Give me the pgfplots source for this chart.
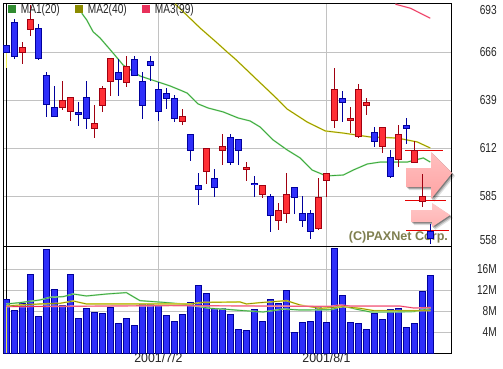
\documentclass[border=0pt]{standalone}
\usepackage{fontspec}
\usepackage{pgfplots}
\usepackage{pgfplotstable}
\pgfplotsset{compat=1.18}
\setmainfont{Liberation Sans}
\newfontfamily\narrowf[FakeStretch=0.78]{Liberation Sans}
\newfontfamily\xlabf[FakeStretch=0.95]{Liberation Sans}
\definecolor{bluefill}{HTML}{2E2EFA}
\definecolor{blueedge}{HTML}{00009C}
\definecolor{redfill}{HTML}{FF3036}
\definecolor{rededge}{HTML}{A00010}
\definecolor{gridc}{HTML}{C2C2C2}
\definecolor{ma1}{HTML}{38A438}
\definecolor{ma1l}{HTML}{A0E0A0}
\definecolor{ma2}{HTML}{8B8B00}
\definecolor{ma2l}{HTML}{E8E850}
\definecolor{ma3}{HTML}{E8305A}
\definecolor{ma3l}{HTML}{FFB0C0}
\definecolor{paxc}{HTML}{7F7F50}

\pgfplotstableread{
i hi top bot lo
0 669.9 669.9 666.0 666.0
1 684.4 682.7 663.6 662.2
4 681.8 679.3 662.5 661.5
5 654.8 652.9 636.6 629.6
6 646.9 634.9 629.8 629.6
9 637.9 632.1 631.0 624.5
10 649.7 640.5 628.7 622.9
14 661.9 654.6 650.6 641.4
16 663.6 661.9 652.9 652.9
17 654.6 649.5 636.0 628.5
18 663.6 660.8 658.5 649.5
19 649.0 645.0 632.6 627.4
20 645.6 642.8 640.0 633.7
21 641.8 640.0 628.7 626.8
23 619.7 619.7 610.7 604.9
24 597.8 591.0 588.8 579.8
26 600.0 595.0 589.9 584.6
28 619.7 618.0 604.0 602.6
29 616.9 616.9 610.7 602.6
31 596.3 592.3 591.7 584.6
33 586.0 584.8 574.1 564.9
36 589.9 589.9 584.3 575.0
37 584.8 575.3 571.3 567.7
38 577.0 575.3 565.1 561.0
42 643.9 640.0 637.7 626.8
46 623.6 620.8 615.8 612.7
48 610.9 606.8 596.1 595.0
50 628.7 624.8 623.1 614.1
53 569.1 565.1 561.2 557.8
}\downT
\pgfplotstableread{
i hi top bot lo
2 671.6 668.6 665.8 659.4
3 692.4 684.4 678.8 675.2
7 649.7 638.8 634.9 633.5
8 640.5 640.5 632.6 627.4
11 636.2 625.9 623.0 617.8
12 646.9 645.6 636.0 632.4
13 662.5 662.5 649.5 641.4
15 663.6 658.0 649.0 646.5
22 633.8 629.8 627.0 624.8
25 611.8 611.8 598.9 591.6
27 619.7 613.0 610.7 602.6
30 604.0 601.1 600.0 593.6
32 591.0 591.0 586.0 584.0
34 580.9 577.0 571.3 566.0
35 597.8 586.0 575.3 570.0
39 595.0 584.3 566.8 566.0
40 597.8 597.8 593.8 584.6
41 656.8 645.0 627.6 623.1
43 634.9 628.7 627.6 620.3
44 647.8 645.0 618.4 617.8
45 640.0 637.7 636.0 630.6
47 623.6 623.6 613.0 609.0
49 624.9 619.7 605.6 601.5
51 615.8 610.7 604.0 604.0
52 597.2 584.8 582.0 579.0
}\upT
\pgfplotstableread{
i v
9.43 687.8
10.05 684.0
10.84 677.4
11.71 673.9
13.34 665.4
14.59 658.7
16.71 652.5
20.46 646.9
21.71 644.6
22.59 642.9
23.96 636.8
25.21 634.5
27.09 632.3
28.96 628.9
30.46 627.2
31.71 623.8
33.34 616.5
35.09 610.9
36.71 606.4
38.21 599.6
39.96 596.3
42.09 596.8
43.34 599.6
45.09 603.0
46.71 604.1
50.09 604.1
52.09 606.4
52.96 604.1
}\maA
\pgfplotstableread{
i v
21.09 693.0
24.21 679.5
26.34 671.1
27.59 666.0
28.59 662.1
31.34 650.3
33.84 639.6
35.09 633.9
37.59 626.6
39.84 621.6
42.09 620.4
45.46 618.2
48.84 617.6
51.34 615.4
52.96 612.0
}\maB
\pgfplotstableread{
i v
48.6 692.9
50.5 690.6
52.96 685.0
}\maC
\pgfplotstableread{
i v
0 10.29
1 8.06
2 9.4
3 14.92
4 7.05
5 19.68
6 12.19
7 9.2
8 14.92
9 6.67
10 8.57
11 7.81
12 7.62
13 8.76
14 5.71
15 6.67
16 5.33
17 9.52
18 9.4
19 9.2
20 7.24
21 6.10
22 7.43
23 9.71
24 12.95
25 11.43
26 8.57
27 8.57
28 7.43
29 4.57
30 4.38
31 8.38
32 6.10
33 10.29
34 9.52
35 12.0
36 4.0
37 5.9
38 6.1
39 8.89
40 5.9
41 20.0
42 11.05
43 5.9
44 5.71
45 4.57
46 7.62
47 6.48
48 8.38
49 8.57
50 4.95
51 5.71
52 11.81
53 14.86
}\volT
\pgfplotstableread{
i v
0 9.4
1.7 9.65
4.2 10.16
5.5 10.67
7.1 10.79
8.35 11.3
10 10.92
12.55 11.3
15 11.56
16.7 10.03
19.6 9.71
22 9.4
25.5 8.57
27.5 8.38
29.6 8.13
32.1 7.87
34.6 8.44
36.7 8.25
40.5 8.3
42.1 9.0
43.8 8.38
45.5 7.87
47.6 7.87
50.9 7.94
53 8.57
}\vmaA
\pgfplotstableread{
i v
0 9.02
1.7 9.2
4.2 9.4
6.7 9.52
8.35 9.97
10 9.4
20.5 9.4
23 9.4
24.6 9.71
29.2 9.78
30 9.4
31.7 9.65
35 10.03
36.7 9.2
39.2 8.57
40.5 8.7
42.1 8.89
44.2 8.57
45.9 8.13
53 8.13
}\vmaB
\pgfplotstableread{
i v
0 8.89
20.5 9.08
40.5 8.95
41.7 9.2
43 9.0
49.2 9.0
50.9 8.63
53 8.7
}\vmaC

\newcommand{\candles}[3]{%
  \addplot[draw=none, mark=none, forget plot, error bars/.cd, y dir=both, y explicit, error mark=none,
    error bar style={draw=#2, line width=1pt}]
    table[x=i, y=top, y error plus expr=\thisrow{hi}-\thisrow{top}, y error minus expr=\thisrow{top}-\thisrow{lo}] {#1};
  \addplot[draw=none, mark=none, forget plot, error bars/.cd, y dir=both, y explicit, error mark=none,
    error bar style={draw=#2, line width=6.4pt}]
    table[x=i, y=top, y error plus expr=0.28, y error minus expr=\thisrow{top}-\thisrow{bot}+0.28] {#1};
  \addplot[draw=none, mark=none, forget plot, error bars/.cd, y dir=both, y explicit, error mark=none,
    error bar style={draw=#3, line width=4.4pt}]
    table[x=i, y expr=\thisrow{top}-0.28, y error plus expr=0, y error minus expr=\thisrow{top}-\thisrow{bot}-0.56] {#1};
}
\newcommand{\maline}[3]{%
  \addplot[#3, line width=1.5pt, forget plot] table[x=i,y=v] {#1};
  \addplot[#2, line width=0.7pt, forget plot] table[x=i,y=v] {#1};
}
\pgfplotsset{panel/.style={
  scale only axis, width=447.6pt, xmin=-0.325, xmax=55.59,
  axis line style={black, line width=1pt},
  major tick length=0pt, minor tick length=0pt,
  xtick={19,40},
  grid=major, grid style={gridc, line width=1pt},
  yticklabel pos=right,
  yticklabel style={anchor=east, xshift=49pt, text=black!85,
    font=\narrowf\fontsize{13}{13}\selectfont},
  xticklabel style={text=black!85, font=\xlabf\fontsize{13}{13}\selectfont, yshift=4pt},
}}

\begin{document}
\begin{tikzpicture}[x=1pt,y=1pt]
\fill[white] (0,0) rectangle (503,368);
\path[use as bounding box] (0,0) rectangle (503,368);

% price panel
\begin{axis}[panel, at={(3.7pt,122pt)}, anchor=south west, height=242.3pt,
  ymin=556.875, ymax=693.17, clip=false,
  xticklabels={},
  ytick={666,639,612,585}, yticklabels={666,639,612,585},
  extra y ticks={689.6,560.25}, extra y tick labels={693,558},
  extra y tick style={grid=none},
]
  \addplot[black, line width=1pt, forget plot] coordinates {(0,556.875) (0,693.17)};
  \addplot[ma2l, line width=1.2pt, forget plot] coordinates {(0,666) (0,657)};
  \maline{\maA}{ma1}{ma1l}
  \maline{\maB}{ma2}{ma2l}
  \maline{\maC}{ma3}{ma3l}
  % arrows (pixel offsets from the axis's lower left corner)
  \pgfplotsextra{%
  \begin{scope}[shift={(rel axis cs:0,0)}, x=1pt, y=1pt]
    \foreach \o/\a in {3/.12,2/.2,1/.3}{
      \fill[black, opacity=\a, shift={(\o,-\o)}] (402.3,78)--(427.3,78)--(427.3,94)--(448.3,73)--(427.3,47)--(427.3,59)--(402.3,59)--cycle;
      \fill[black, opacity=\a, shift={(\o,-\o)}] (407.3,36)--(428.3,36)--(428.3,43)--(446.3,31)--(428.3,19)--(428.3,24)--(407.3,24)--cycle;
    }
    \shade[top color=red!25, middle color=red!42, bottom color=red!36]
      (402.3,78)--(427.3,78)--(427.3,94)--(448.3,73)--(427.3,47)--(427.3,59)--(402.3,59)--cycle;
    \shade[top color=red!22, middle color=red!62, bottom color=red!30]
      (407.3,36)--(428.3,36)--(428.3,43)--(446.3,31)--(428.3,19)--(428.3,24)--(407.3,24)--cycle;
    \node[anchor=base east, text=paxc, inner sep=0pt,
      font=\bfseries\fontsize{12.6}{13}\selectfont] at (444.5,5.5) {(C)PAXNet Corp.};
  \end{scope}}
  \addplot[red!90!black, line width=1pt, forget plot] coordinates {(49.84,610.7) (54.55,610.7)};
  \addplot[red!90!black, line width=1pt, forget plot] coordinates {(49.84,582.2) (54.96,582.2)};
  \addplot[red!90!black, line width=1pt, forget plot] coordinates {(49.96,565.7) (55.34,565.7)};
  \candles{\downT}{blueedge}{bluefill}
  \candles{\upT}{rededge}{redfill}
  % legend
  \pgfplotsextra{%
  \begin{scope}[shift={(rel axis cs:0,1)}, x=1pt, y=1pt,
      every node/.style={anchor=base west, inner sep=0pt, text=black!85,
      font=\narrowf\fontsize{13}{13}\selectfont}]
    \fill[ma1!85!black] (4.3,-1.3) rectangle (12.3,-9.3);
    \node at (17,-10) {MA1(20)};
    \fill[ma2] (71.3,-1.3) rectangle (79.3,-9.3);
    \node at (84,-10) {MA2(40)};
    \fill[ma3] (138.6,-1.3) rectangle (146.6,-9.3);
    \node at (151,-10) {MA3(99)};
  \end{scope}}
\end{axis}

% volume panel
\begin{axis}[panel, at={(3.7pt,14.7pt)}, anchor=south west, height=107.3pt,
  ymin=0, ymax=20.44,
  xticklabels={2001/7/2,2001/8/1},
  ytick={4,8,12,16}, yticklabels={4M,8M,12M,16M},
]
  \addplot[black, line width=1pt, forget plot] coordinates {(0,0) (0,20.44)};
  \addplot[ybar, bar width=6.2pt, fill=bluefill, draw=blueedge, line width=1pt, forget plot]
    table[x=i,y=v] {\volT};
  \addplot[ma2l, line width=1.2pt, forget plot] coordinates {(0,8.9) (0,0)};
  \maline{\vmaA}{ma1}{ma1l}
  \maline{\vmaB}{ma2}{ma2l}
  \maline{\vmaC}{ma3}{ma3l}
\end{axis}
\end{tikzpicture}
\end{document}
